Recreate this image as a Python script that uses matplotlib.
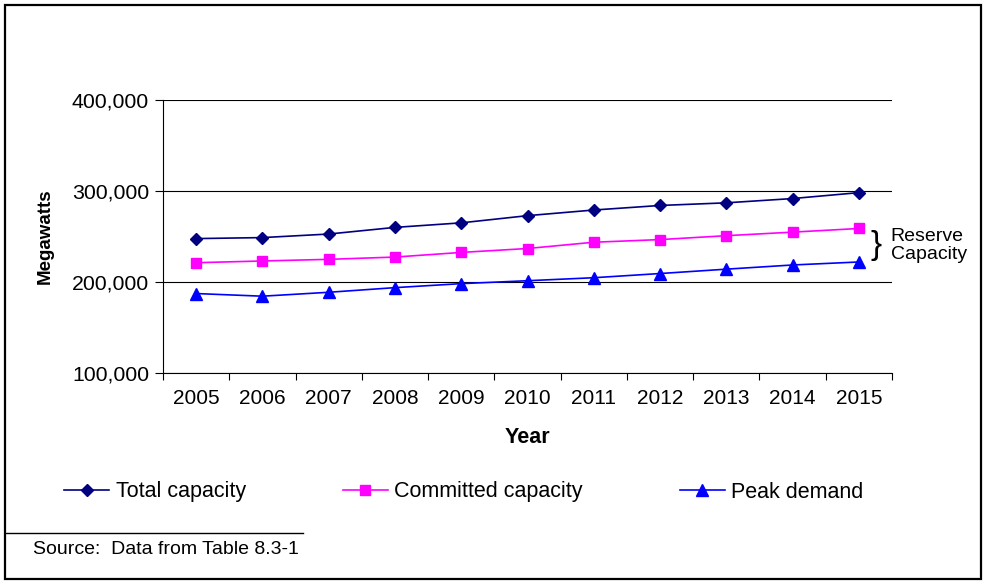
import numpy as np
import matplotlib
matplotlib.use("Agg")
import matplotlib.pyplot as plt
from matplotlib.patches import Rectangle
from matplotlib.lines import Line2D
from matplotlib.ticker import FuncFormatter, FixedLocator

plt.rcParams['font.family'] = ['Liberation Sans', 'DejaVu Sans']

years = ["2005", "2006", "2007", "2008", "2009", "2010",
         "2011", "2012", "2013", "2014", "2015"]
total_capacity = [247700, 248800, 252700, 260000, 265000, 272900,
                  279100, 284100, 287000, 291700, 298200]
committed_capacity = [221200, 223100, 224900, 227400, 232500, 236800,
                      243700, 246600, 250900, 254800, 258800]
peak_demand = [187300, 184400, 188700, 193800, 198200, 201400,
               204700, 209300, 214100, 218700, 222000]

fig = plt.figure(figsize=(9.83, 5.82), dpi=100)
ax = fig.add_axes([163/983, 1-373/582, (892-163)/983, (373-100)/582])

x = np.arange(len(years))
ax.plot(x, total_capacity, color="#000080", marker="D", markersize=6, lw=1.2,
        label="Total capacity")
ax.plot(x, committed_capacity, color="#ff00ff", marker="s", markersize=6.5, lw=1.2,
        label="Committed capacity")
ax.plot(x, peak_demand, color="#0000ff", marker="^", markersize=8, lw=1.2,
        label="Peak demand")

ax.set_xlim(-0.5, len(years) - 0.5)
ax.set_ylim(100000, 400000)
ax.set_yticks([100000, 200000, 300000, 400000])
ax.yaxis.set_major_formatter(FuncFormatter(lambda v, p: f"{int(v):,}"))
ax.set_xticks(x)
ax.set_xticklabels(years)
ax.xaxis.set_minor_locator(FixedLocator(np.arange(-0.5, len(years), 1.0)))
ax.tick_params(axis="x", which="major", length=0, pad=11.5, labelsize=15)
ax.tick_params(axis="x", which="minor", length=5, width=0.8, direction="out")
ax.tick_params(axis="y", length=6, width=0.8, direction="out", labelsize=15.3, pad=4)
ax.grid(axis="y", color="black", lw=0.8)
for s in ["top", "right"]:
    ax.spines[s].set_visible(False)
for s in ["left", "bottom"]:
    ax.spines[s].set_linewidth(0.8)

ax.set_xlabel("Year", fontsize=15.5, fontweight="bold", labelpad=14)
ax.set_ylabel("Megawatts", fontsize=13.5, fontweight="bold", labelpad=13)

# brace for reserve capacity
mid = (committed_capacity[-1] + peak_demand[-1]) / 2
ax.text(len(years) - 0.5 - 0.33, mid, "}", fontsize=24, va="center", ha="left",
        fontweight="light")
ax.text(len(years) - 0.5 - 0.02, mid, "Reserve\nCapacity", fontsize=14,
        va="center", ha="left", linespacing=1.1)

fig.legend(loc="center left", bbox_to_anchor=(64/983, 1-492/582), ncol=3,
           frameon=False, fontsize=15.5, handlelength=2.1, handletextpad=0.3,
           columnspacing=4.5, borderaxespad=0, borderpad=0)

# outer border and source note
fig.patches.append(Rectangle((5/983, 3/582), 976/983, 574/582, fill=False,
                             edgecolor="black", lw=1.6, transform=fig.transFigure))
fig.lines.append(Line2D([5/983, 303/983], [1-533/582, 1-533/582], color="black",
                        lw=1.0, transform=fig.transFigure))
fig.text(33/983, 1-549/582, "Source:  Data from Table 8.3-1", fontsize=14,
         va="center", ha="left")

fig.savefig("out.png", dpi=100)
